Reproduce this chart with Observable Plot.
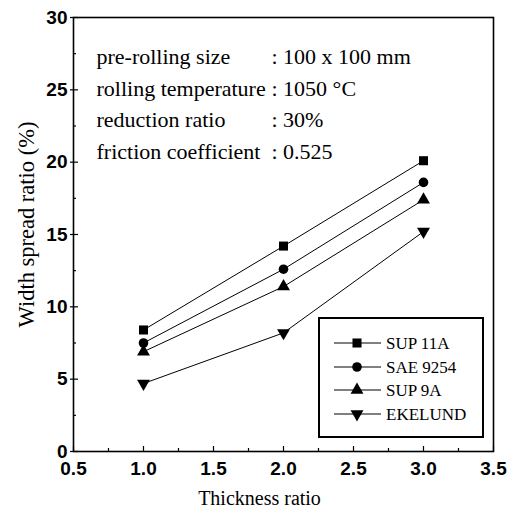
<!DOCTYPE html>
<html><head><meta charset="utf-8">
<script src="https://cdn.jsdelivr.net/npm/d3@7"></script>
<script src="https://cdn.jsdelivr.net/npm/@observablehq/plot@0.6"></script>
<style>body{margin:0;background:#fff}</style>
</head><body><div id="chart"></div>
<script>
// ---- data ----
const thickness = [1.0, 2.0, 3.0];
const seriesNames = ["SUP 11A", "SAE 9254", "SUP 9A", "EKELUND"];
const sup11a = [8.4, 14.2, 20.1];
const sae9254 = [7.5, 12.6, 18.6];
const sup9a = [6.9, 11.4, 17.4];
const ekelund = [4.7, 8.2, 15.2];
const xTicks = [0.5, 1.0, 1.5, 2.0, 2.5, 3.0, 3.5];
const xMinor = [0.75, 1.25, 1.75, 2.25, 2.75, 3.25];
const yTicks = [0, 5, 10, 15, 20, 25, 30];
const yMinor = [2.5, 7.5, 12.5, 17.5, 22.5, 27.5];
const conditionLabels = ["pre-rolling size", "rolling temperature", "reduction ratio", "friction coefficient"];
const conditionValues = [": 100 x 100 mm", ": 1050 \u00B0C", ": 30%", ": 0.525"];
const xLabel = "Thickness ratio";
const yLabel = "Width spread ratio (%)";

// ---- build table ----
const valuesBySeries = [sup11a, sae9254, sup9a, ekelund];
const rows = [];
seriesNames.forEach((s, i) => thickness.forEach((t, j) => rows.push({series: s, x: t, y: valuesBySeries[i][j]})));

const sqrt3 = Math.sqrt(3);
const triangleDown = {draw(context, size) {
  const y = -Math.sqrt(size / (sqrt3 * 3));
  context.moveTo(0, -y * 2);
  context.lineTo(-sqrt3 * y, y);
  context.lineTo(sqrt3 * y, y);
  context.closePath();
}};
const symbols = [d3.symbolSquare, d3.symbolCircle, d3.symbolTriangle, triangleDown];
const radii = [5.1, 4.8, 4.8, 4.8];

const W = 516, H = 511, mL = 73, mR = 23, mT = 17, mB = 60;
const plotW = W - mL - mR, plotH = H - mT - mB;
const serif = "'Liberation Serif', 'Times New Roman', serif";
const sans = "'Liberation Sans', Arial, sans-serif";

const dotMarks = seriesNames.map((s, i) => Plot.dot(rows.filter(d => d.series === s), {
  x: "x", y: "y", symbol: symbols[i], r: radii[i], fill: "black", stroke: "none"
}));

const chart = Plot.plot({
  width: W, height: H,
  marginLeft: mL, marginRight: mR, marginTop: mT, marginBottom: mB,
  style: {fontFamily: sans, color: "black", background: "white"},
  x: {domain: [0.5, 3.5]},
  y: {domain: [0, 30]},
  marks: [
    Plot.axisX(xTicks, {tickSize: 0, tickPadding: 10, fontSize: 19, fontWeight: "bold", tickFormat: d3.format(".1f"), label: null}),
    Plot.axisY(yTicks, {tickSize: 0, tickPadding: 6, fontSize: 19, fontWeight: "bold", label: null}),
    Plot.ruleX(xTicks, {x: d => d, insetTop: plotH - 5, stroke: "black", strokeWidth: 1.2}),
    Plot.ruleX(xMinor, {x: d => d, insetTop: plotH - 3, stroke: "black", strokeWidth: 1.2}),
    Plot.ruleY(yTicks, {y: d => d, insetLeft: -3, insetRight: plotW - 5, stroke: "black", strokeWidth: 1.2}),
    Plot.ruleY(yMinor, {y: d => d, insetRight: plotW - 3, stroke: "black", strokeWidth: 1.2}),
    Plot.frame({stroke: "black", strokeWidth: 1.6}),
    Plot.line(rows, {x: "x", y: "y", z: "series", stroke: "black", strokeWidth: 1}),
    ...dotMarks,
    Plot.text([conditionLabels.join("\n")], {text: d => d, frameAnchor: "top-left", textAnchor: "start", lineAnchor: "top", lineHeight: 1.44, dx: 23, dy: 24, fontFamily: serif, fontSize: 22, fill: "black"}),
    Plot.text([conditionValues.join("\n")], {text: d => d, frameAnchor: "top-left", textAnchor: "start", lineAnchor: "top", lineHeight: 1.44, dx: 198, dy: 24, fontFamily: serif, fontSize: 22, fill: "black"}),
    Plot.text([xLabel], {text: d => d, frameAnchor: "bottom", textAnchor: "middle", lineAnchor: "middle", dx: -24, dy: 47, fontFamily: serif, fontSize: 20, fill: "black"}),
    Plot.text([yLabel], {text: d => d, frameAnchor: "left", textAnchor: "middle", lineAnchor: "middle", rotate: -90, dx: -47, dy: -10, fontFamily: serif, fontSize: 22.5, fill: "black"})
  ]
});
document.getElementById("chart").append(chart);

// ---- legend box ----
const svg = d3.select(chart);
const lg = svg.append("g").attr("class", "legend");
lg.append("rect").attr("x", 319).attr("y", 318).attr("width", 164).attr("height", 119)
  .attr("fill", "white").attr("stroke", "black").attr("stroke-width", 2);
const rowY = [343, 367, 390, 414];
seriesNames.forEach((s, i) => {
  lg.append("line").attr("x1", 334).attr("x2", 381).attr("y1", rowY[i]).attr("y2", rowY[i])
    .attr("stroke", "black").attr("stroke-width", 1);
  lg.append("path").attr("transform", `translate(357,${rowY[i]})`)
    .attr("d", d3.symbol(symbols[i], radii[i] * radii[i] * Math.PI)()).attr("fill", "black");
  lg.append("text").attr("x", 386).attr("y", rowY[i]).attr("dy", "0.35em")
    .attr("text-anchor", "start")
    .attr("font-family", serif).attr("font-size", 17).attr("fill", "black").text(s);
});
</script>
</body></html>
